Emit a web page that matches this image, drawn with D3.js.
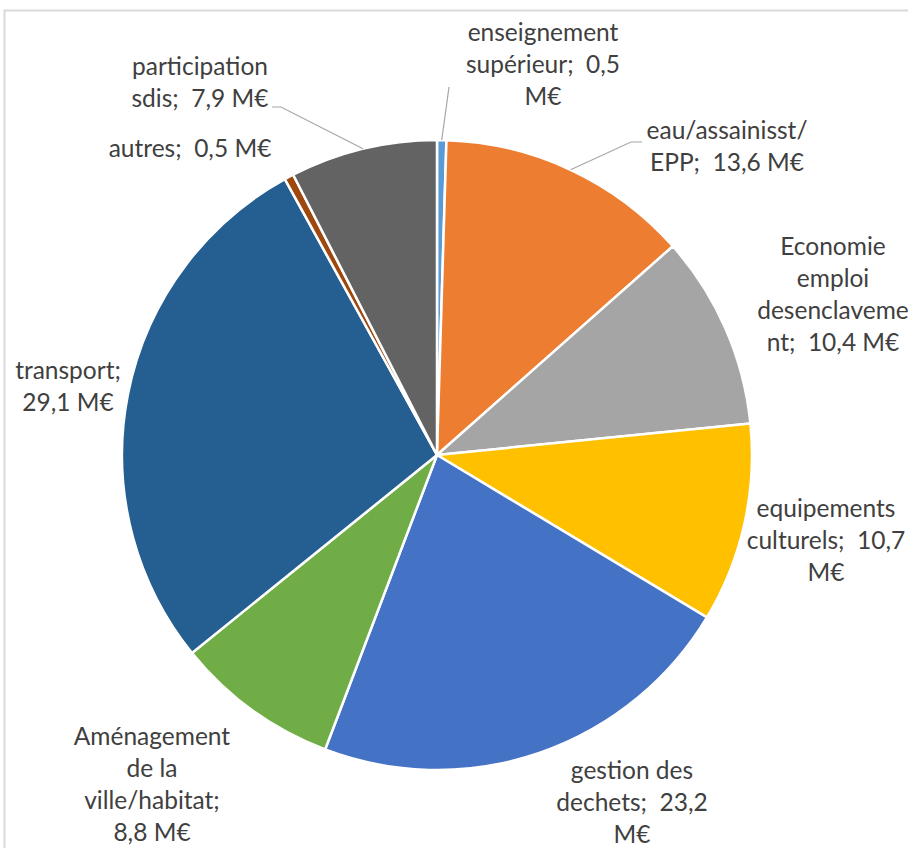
<!DOCTYPE html>
<html><head><meta charset="utf-8">
<script src="https://cdn.jsdelivr.net/npm/d3@7"></script>
<style>body{margin:0;background:#fff;}svg{display:block;}text{white-space:pre;}</style>
</head><body>
<script>
const categories = ["enseignement supérieur","eau/assainisst/ EPP","Economie emploi desenclavement","equipements culturels","gestion des dechets","Aménagement de la ville/habitat","transport","autres","participation sdis"];
const values = [0.5,13.6,10.4,10.7,23.2,8.8,29.1,0.5,7.9];
const valueLabels = ["0,5","13,6","10,4","10,7","23,2","8,8","29,1","0,5","7,9"];
const colors = ["#5B9BD5","#ED7D31","#A5A5A5","#FFC000","#4472C4","#70AD47","#255E91","#9E480E","#636363"];
// label text lines (as wrapped in the original)
const labelLines = [
  ["enseignement","supérieur;  0,5","M€"],
  ["eau/assainisst/","EPP;  13,6 M€"],
  ["Economie","emploi","desenclaveme","nt;  10,4 M€"],
  ["equipements","culturels;  10,7","M€"],
  ["gestion des","dechets;  23,2","M€"],
  ["Aménagement","de la","ville/habitat;","8,8 M€"],
  ["transport;","29,1 M€"],
  ["autres;  0,5 M€"],
  ["participation","sdis;  7,9 M€"]
];

const W=908,H=848, cx=437, cy=455, R=315;
// label layout: center x, first baseline y, and leader line (if any)
const layout = [
  {x:543,y:41, leader:{tx:449,ty:87}},
  {x:727,y:139, leader:{tx:642,ty:142,hx:631}},
  {x:833,y:255},
  {x:826,y:517},
  {x:632,y:779},
  {x:152,y:745},
  {x:68,y:379},
  {x:190,y:157},
  {x:200,y:75, leader:{tx:272,ty:107,hx:281}}
];
const lineH = 32;

const svg=d3.select("body").append("svg").attr("width",W).attr("height",H);
svg.append("rect").attr("x",4.5).attr("y",10.5).attr("width",W+10).attr("height",H+10)
  .attr("fill","#fff").attr("stroke","#d9d9d9").attr("stroke-width",2);

const pie=d3.pie().sort(null).value(d=>d)(values);
const arc=d3.arc().innerRadius(0).outerRadius(R);
const g=svg.append("g").attr("transform",`translate(${cx},${cy})`);
g.selectAll("path").data(pie).enter().append("path")
  .attr("d",arc).attr("fill",(d,i)=>colors[i])
  .attr("stroke","#fff").attr("stroke-width",2.5).attr("stroke-linejoin","round");

// leader lines
pie.forEach((d,i)=>{
  const L=layout[i].leader; if(!L) return;
  const a=(d.startAngle+d.endAngle)/2;
  const ex=cx+R*Math.sin(a), ey=cy-R*Math.cos(a);
  const pts=[[L.tx,L.ty]];
  if(L.hx!==undefined) pts.push([L.hx,L.ty]);
  pts.push([ex,ey]);
  svg.append("path").attr("d",d3.line()(pts)).attr("fill","none")
    .attr("stroke","#a6a6a6").attr("stroke-width",1.2);
});

// labels
labelLines.forEach((lines,i)=>{
  const t=svg.append("text").attr("text-anchor","middle")
    .attr("font-family","Lato, 'Open Sans', sans-serif").attr("font-size",24.5)
    .attr("fill","#404040");
  lines.forEach((s,j)=>{
    t.append("tspan").attr("x",layout[i].x).attr("y",layout[i].y+j*lineH).text(s);
  });
});
</script>
</body></html>
